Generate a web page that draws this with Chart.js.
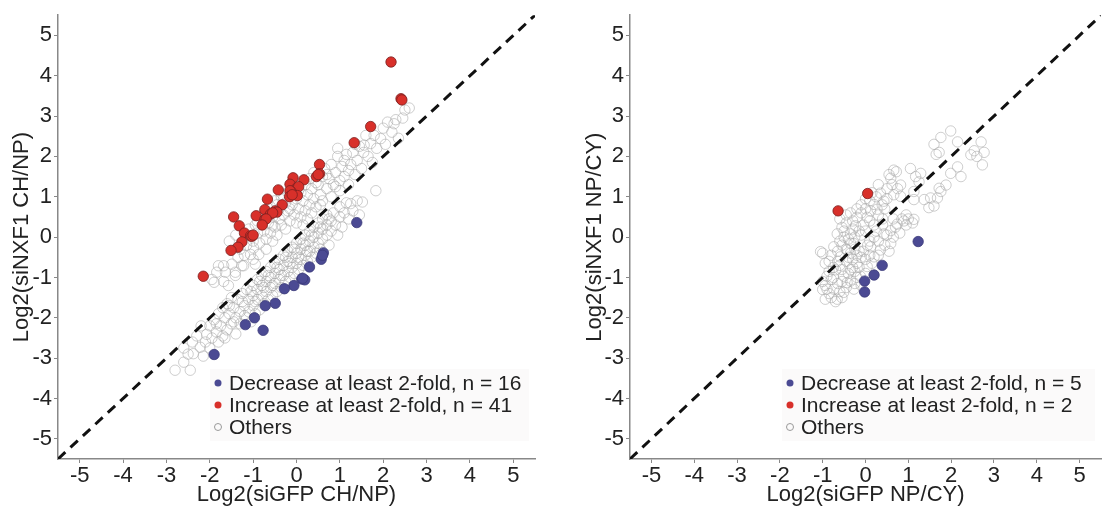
<!DOCTYPE html>
<html>
<head>
<meta charset="utf-8">
<script src="https://cdn.jsdelivr.net/npm/chart.js@4"></script>
<style>
  html, body { margin: 0; padding: 0; background: #fff; }
  #wrap { position: relative; width: 1109px; height: 514px; }
  #leftBox { position: absolute; left: 0; top: 0; width: 572px; height: 514px; }
  #rightBox { position: absolute; left: 572px; top: 0; width: 537px; height: 514px; }
</style>
</head>
<body>
<div id="wrap">
  <div id="leftBox"><canvas id="leftChart"></canvas></div>
  <div id="rightBox"><canvas id="rightChart"></canvas></div>
</div>
<script>
// tick labels on both axes
var tickValues = [-5, -4, -3, -2, -1, 0, 1, 2, 3, 4, 5];
var axisMin = -5.5, axisMax = 5.5;

// ---- left panel: CH/NP ----
var leftDecrease = [
  [1.39,0.36],[0.62,-0.39],[0.57,-0.55],[0.6,-0.45],[0.30,-0.74],[0.12,-1.04],[0.19,-1.06],[0.14,-1.02],
  [-0.06,-1.2],[-0.28,-1.28],[-0.49,-1.64],[-0.72,-1.70],[-0.97,-2.0],[-1.18,-2.17],[-0.77,-2.31],[-1.9,-2.91]
];
var leftIncrease = [
  [2.18,4.34],[2.41,3.43],[2.43,3.40],[1.71,2.74],[1.33,2.34],[0.53,1.80],[0.53,1.57],[0.46,1.50],[0.5,1.55],
  [-0.08,1.47],[0.17,1.42],[-0.15,1.31],[0,1.21],[0.05,1.25],[-0.42,1.17],[-0.12,1.12],[-0.15,1.15],[0.02,1.03],
  [-0.16,1.0],[-0.1,1.05],[-0.67,0.94],[-0.33,0.8],[-0.49,0.65],[-0.45,0.62],[-0.73,0.68],[-0.6,0.57],[-0.55,0.6],
  [-0.93,0.53],[-1.45,0.5],[-0.73,0.44],[-0.7,0.45],[-0.79,0.30],[-1.32,0.28],[-1.2,0.1],[-1.06,0.03],[-1.03,0.02],
  [-1.0,0.05],[-1.26,-0.12],[-1.35,-0.25],[-1.51,-0.33],[-2.15,-0.97]
];
var leftOthers = [
  // band above the diagonal
  [-1.95,-1.05],[-1.9,-1.12],[-1.84,-0.87],[-1.8,-0.71],[-1.68,-0.71],[-1.68,-1.1],[-1.64,-0.87],[-1.57,-1.2],
  [-1.49,-0.67],[-1.41,-0.87],[-1.41,-0.95],[-1.26,-0.71],[-1.22,-0.71],[-1.06,-0.43],[-0.99,-0.27],[-0.95,-0.67],
  [-0.87,-0.43],[-1.55,-0.1],[-1.4,0.05],[-1.3,-0.3],[-1.15,-0.2],[-1.1,0.2],[-1.0,-0.1],[-0.95,0.3],[-0.9,0.1],
  [-0.85,-0.15],[-0.8,0.5],[-0.75,0.15],[-0.7,-0.05],[-0.65,0.35],[-0.6,0.75],[-0.6,0.1],[-0.55,0.5],[-0.5,0.25],
  [-0.5,0.9],[-0.45,0.05],[-0.4,0.45],[-0.4,0.7],[-0.35,1.0],[-0.35,0.3],[-0.3,0.55],[-0.25,0.85],[-0.25,0.2],
  [-0.2,0.65],[-0.2,1.1],[-0.15,0.4],[-0.1,0.8],[-0.05,0.55],[-0.05,1.3],[0,0.95],[0,0.35],[0.05,0.7],[0.1,1.1],
  [0.1,0.5],[0.15,0.9],[0.2,1.3],[0.2,0.65],[0.25,1.05],[0.3,0.8],[0.3,1.45],[0.35,1.2],[0.4,0.95],[0.4,1.6],
  [0.45,0.75],[0.5,1.3],[0.55,1.05],[0.6,1.5],[0.6,0.9],[0.65,1.7],[0.7,1.2],[0.75,1.45],[0.8,1.0],[0.8,1.8],
  [0.85,1.3],[0.9,1.6],[0.95,2.0],[1.0,1.4],[1.0,1.15],[1.05,1.75],[1.1,1.5],[1.15,2.05],[1.2,1.3],[1.25,1.8],
  [1.3,2.1],[1.35,1.55],[1.4,1.9],[1.45,2.25],[1.5,1.7],[1.56,2.28],[1.6,2.52],[1.65,2.0],[1.71,2.32],[1.75,1.85],
  [1.79,2.52],[1.85,2.2],[1.94,2.44],[2.0,2.7],[2.05,2.3],[2.1,2.85],[2.2,2.6],[2.25,2.81],[2.29,2.91],[2.35,2.45],
  [2.5,3.15],[2.45,2.95],
  [-0.9,0.4],[-0.75,0.6],[-0.55,0.3],[-0.45,0.8],[-0.3,0.95],[-0.15,0.7],[0.05,1.15],[0.15,0.3],[0.25,0.45],
  [0.35,0.6],[0.45,1.35],[0.55,0.8],[0.7,1.55],[0.9,1.25],[1.1,1.9],[1.2,1.65],[1.35,2.3],[-1.2,-0.45],[-1.35,-0.5],
  [-1.0,-0.55],[-0.7,-0.3],[-0.55,-0.1],[0.95,2.2],[1.55,2.1],[2.6,3.2],
  // band below the diagonal
  [-2.8,-3.3],[-2.6,-3.1],[-2.45,-3.3],[-2.5,-2.9],[-2.38,-2.89],[-2.22,-2.73],[-2.4,-2.6],[-2.3,-2.45],[-2.07,-2.41],
  [-2.2,-2.2],[-2.1,-2.6],[-2.0,-2.75],[-2.0,-2.2],[-1.95,-2.5],[-1.9,-2.05],[-1.85,-2.35],[-1.8,-2.6],[-1.8,-1.9],
  [-1.75,-2.2],[-1.7,-2.45],[-1.7,-1.75],[-1.65,-2.0],[-1.6,-2.3],[-1.6,-1.65],[-1.55,-1.9],[-1.5,-2.15],[-1.5,-1.5],
  [-1.45,-1.75],[-1.4,-2.0],[-1.4,-2.4],[-1.35,-1.55],[-1.3,-1.85],[-1.3,-2.15],[-1.25,-1.4],[-1.2,-1.7],[-1.2,-1.95],
  [-1.15,-1.3],[-1.1,-1.55],[-1.1,-1.85],[-1.05,-2.1],[-1.0,-1.2],[-1.0,-1.45],[-1.0,-1.7],[-0.95,-1.9],[-0.9,-1.05],
  [-0.9,-1.3],[-0.9,-1.55],[-0.85,-1.8],[-0.8,-0.95],[-0.8,-1.2],[-0.8,-1.45],[-0.75,-1.65],[-0.7,-0.85],[-0.7,-1.1],
  [-0.7,-1.35],[-0.65,-1.55],[-0.6,-0.75],[-0.6,-1.0],[-0.6,-1.25],[-0.55,-1.45],[-0.5,-0.65],[-0.5,-0.9],[-0.5,-1.15],
  [-0.45,-1.35],[-0.4,-0.55],[-0.4,-0.8],[-0.4,-1.05],[-0.35,-1.25],[-0.3,-0.45],[-0.3,-0.7],[-0.3,-0.95],[-0.25,-1.1],
  [-0.2,-0.35],[-0.2,-0.6],[-0.2,-0.85],[-0.15,-1.0],[-0.1,-0.25],[-0.1,-0.5],[-0.1,-0.75],[-0.05,-0.9],[0,-0.15],
  [0,-0.4],[0,-0.65],[0.05,-0.8],[0.1,-0.05],[0.1,-0.3],[0.1,-0.55],[0.15,-0.7],[0.2,0.05],[0.2,-0.2],[0.2,-0.45],
  [0.25,-0.6],[0.3,0.15],[0.3,-0.1],[0.3,-0.35],[0.35,-0.5],[0.4,0.25],[0.4,0.0],[0.4,-0.25],[0.45,-0.4],[0.5,0.35],
  [0.5,0.1],[0.5,-0.15],[0.55,-0.3],[0.6,0.45],[0.6,0.2],[0.6,-0.05],[0.7,0.55],[0.7,0.3],[0.7,0.05],[0.75,-0.2],
  [0.8,0.4],[0.8,0.15],[0.85,0.6],[0.9,0.3],[0.95,0.05],[1.0,0.5],[1.0,0.75],[1.05,0.25],[1.1,0.6],[1.15,0.85],
  [1.2,0.45],[1.25,0.83],[1.3,0.65],[1.4,0.9],[1.52,0.87],[1.83,1.15],[1.45,0.55],
  [-1.85,-2.15],[-1.55,-1.7],[-1.25,-1.6],[-1.05,-1.35],[-0.85,-1.1],[-0.65,-0.95],[-0.45,-0.75],[-0.25,-0.5],
  [-0.05,-0.3],[0.15,-0.15],[0.35,0.05],[0.55,0.25],[0.75,0.45],[-0.95,-1.6],[-0.75,-1.25],[-0.55,-1.2],[-0.35,-0.95],
  [-0.15,-0.65],[0.05,-0.5],[0.25,-0.35],[-1.45,-2.1],[-1.65,-2.5],[-2.15,-2.95],[-2.6,-2.75],[-1.15,-2.0]
];

// ---- right panel: NP/CY ----
var rightDecrease = [[1.23,-0.11],[0.39,-0.70],[0.2,-0.94],[-0.02,-1.09],[-0.02,-1.36]];
var rightIncrease = [[-0.64,0.65],[0.05,1.08]];
var rightOthers = [
  [1.99,2.63],[1.6,2.3],[1.76,2.47],[1.72,2.1],[2.15,2.36],[2.7,2.36],[2.54,2.14],[2.46,2.04],[2.77,2.1],[2.73,1.79],
  [2.15,1.74],[1.99,1.58],[2.23,1.5],[1.05,1.7],[1.29,1.58],[1.25,1.37],[1.17,1.5],[1.72,1.21],[1.88,1.29],[1.68,0.97],
  [1.52,0.97],[1.48,0.73],[1.6,0.77],[1.37,0.93],[1.13,0.93],[1.13,1.13],[1.76,1.13],[2.6,2.0],[1.65,2.05],[1.0,0.45],
  [1.1,0.35],[0.95,0.55],
  [0.66,1.66],[0.72,1.62],[0.59,1.46],[0.82,1.29],[0.62,1.3],[0.75,1.2],[0.35,1.09],[0.66,1.05],[0.82,1.01],[0.43,0.89],
  [0.5,0.95],[0.39,0.8],[0.2,0.81],[0.27,0.69],[0.12,0.65],[0.04,0.49],[0.3,0.55],[0.45,0.7],[-0.2,0.49],[-0.1,0.6],
  [0.1,0.4],[0.2,0.3],[-0.05,0.3],[-0.23,0.28],[-0.35,0.08],[-0.55,0.24],[-0.66,0.08],[-0.45,0.35],[-0.3,0.2],[-0.15,0.15],
  [0,0.15],[-0.4,-0.05],[-0.5,0.0],[-0.6,-0.1],[-0.74,-0.24],[-0.65,-0.35],[-0.55,-0.2],[-0.45,-0.3],[-0.35,-0.15],
  [-0.25,0.0],[-0.1,0.05],[-1.05,-0.36],[-1.0,-0.4],[-0.8,-0.45],[-0.3,0.4],[0.1,0.9],[0.25,1.0],[0.5,1.2],[-0.1,0.8],
  [0.0,0.7],[0.4,0.45],[-0.5,0.15],
  [-0.94,-0.65],[-0.85,-0.6],[-0.9,-0.97],[-0.94,-1.2],[-0.9,-1.29],[-0.94,-1.54],[-0.66,-1.54],[-0.74,-1.29],[-0.51,-1.37],
  [-0.43,-1.13],[-0.27,-1.29],[-0.35,-0.81],[-0.12,-0.97],[-0.2,-0.65],[-0.1,-0.5],[0.12,-0.24],[0.2,0.0],[0.43,0.08],
  [0.59,0.16],[0.74,0.32],[0.9,0.4],[1.13,0.44],[0.59,-0.16],[0.35,-0.32],[0.2,-0.49],[0.04,-0.73],[-0.05,-0.35],
  [-0.27,-0.16],[-0.43,-0.32],[-0.59,-0.49],[-0.7,-0.81],[-0.51,-0.97],[-0.35,-1.09],[-0.8,-1.05],[-0.75,-0.75],
  [-0.6,-0.7],[-0.55,-1.1],[-0.45,-0.6],[-0.4,-0.9],[-0.3,-0.55],[-0.25,-0.85],[-0.15,-0.75],[-0.15,-0.35],[0,-0.55],
  [0.05,-0.2],[0.1,-0.45],[0.15,-0.65],[0.3,-0.1],[0.3,-0.45],[0.45,-0.2],[0.5,0.05],[0.65,0.0],[0.7,0.25],[0.8,0.1],
  [0.85,0.45],[0.95,0.3],[0.4,0.3],[0.25,0.15],[-0.65,-1.15],[-0.85,-1.4],[-0.6,-1.35],[-0.75,-1.0],[-1.0,-1.3],
  [-0.7,-1.6],[-0.2,-1.0],[-0.35,-0.4],[0.55,-0.35],[0.65,0.45],
  [-0.3,-0.75],[-0.4,-0.5],[-0.2,-0.45],[-0.55,-0.8],[-0.65,-0.6],[-0.85,-0.85],[-0.45,-1.25],[-0.25,-1.15],
  [-0.8,-1.5],[-0.55,-1.5],[-1.0,-1.1],[-0.6,0.45],[-0.45,0.55],[-0.2,0.7],[0.0,0.95],[0.15,1.1],[0.3,1.3],
  [0.55,1.55],[-0.35,0.6],[-0.25,-0.3],[0.1,-0.1],[0.0,-0.9],[-0.1,-1.2]
];

var FONT = '"Liberation Sans", Arial, sans-serif';
var TEXT = '#222';

function pts(arr){
    return arr.map(p => ({x: p[0], y: p[1]}));
}

// legend drawn inside the plot, bottom right
var innerLegend = {
    id: 'innerLegend',
    afterDraw: function(chart){
        var ctx = chart.ctx;
        var a = chart.chartArea;
        var items = chart.data.datasets.filter(d => d.inLegend);
        var x0 = a.left + 160;
        var rows = [a.bottom - 76, a.bottom - 54, a.bottom - 32];
        ctx.save();
        ctx.fillStyle = 'rgba(240,236,236,0.25)';
        ctx.fillRect(x0 - 8, rows[0] - 14, a.right - x0 + 2, rows[2] - rows[0] + 28);
        ctx.font = '21px ' + FONT;
        ctx.textBaseline = 'middle';
        items.forEach(function(d, i){
            ctx.beginPath();
            ctx.arc(x0, rows[i], 3.5, 0, Math.PI * 2);
            if(d.pointBackgroundColor !== 'transparent'){
                ctx.fillStyle = d.pointBackgroundColor;
                ctx.fill();
            } else {
                ctx.strokeStyle = '#999';
                ctx.lineWidth = 1;
                ctx.stroke();
            }
            ctx.fillStyle = TEXT;
            ctx.fillText(d.label, x0 + 11, rows[i] + 1);
        });
        ctx.restore();
    }
};

function axis(title, pad){
    return {
        type: 'linear',
        min: axisMin,
        max: axisMax,
        afterBuildTicks: function(scale){
            scale.ticks = tickValues.map(v => ({value: v}));
        },
        grid: {drawOnChartArea: false, drawTicks: true, tickLength: 4, color: '#888'},
        border: {display: true, color: '#888', width: 1.5},
        ticks: {color: TEXT, padding: 0, font: {family: FONT, size: 22}},
        title: {display: true, text: title, color: TEXT, padding: pad, font: {family: FONT, size: 22}}
    };
}

function buildChart(id, decrease, increase, others, xTitle, yTitle, padRight, titlePad){
    var ctx = document.getElementById(id).getContext('2d');
    var xAxis = axis(xTitle, {top: 0, bottom: 6});
    xAxis.afterFit = function(scale){ scale.height = 55; };
    var yAxis = axis(yTitle, {top: titlePad, bottom: 0});
    yAxis.ticks.padding = 2;
    yAxis.afterFit = function(scale){ scale.width = 58; };
    return new Chart(ctx, {
        type: 'scatter',
        data: {
            datasets: [
                {
                    label: 'Decrease at least 2-fold, n = ' + decrease.length,
                    inLegend: true,
                    data: pts(decrease),
                    pointRadius: 5.2,
                    pointBackgroundColor: '#4b4a93',
                    pointBorderColor: '#3b3a78',
                    pointBorderWidth: 0.8,
                    order: 0
                },
                {
                    label: 'Increase at least 2-fold, n = ' + increase.length,
                    inLegend: true,
                    data: pts(increase),
                    pointRadius: 5.2,
                    pointBackgroundColor: '#d8302a',
                    pointBorderColor: '#7a2020',
                    pointBorderWidth: 0.8,
                    order: 1
                },
                {
                    label: 'diagonal',
                    data: [{x: axisMin, y: axisMin}, {x: axisMax, y: axisMax}],
                    showLine: true,
                    borderColor: '#111',
                    borderWidth: 3,
                    borderDash: [10, 7],
                    pointRadius: 0,
                    order: 2
                },
                {
                    label: 'Others',
                    inLegend: true,
                    data: pts(others),
                    pointRadius: 5.2,
                    pointBackgroundColor: 'transparent',
                    pointBorderColor: 'rgba(165,165,165,0.55)',
                    pointBorderWidth: 1,
                    order: 3
                }
            ]
        },
        options: {
            responsive: true,
            maintainAspectRatio: false,
            animation: false,
            layout: {padding: {top: 8, right: padRight, bottom: 0, left: 0}},
            plugins: {legend: {display: false}, tooltip: {enabled: false}},
            scales: {x: xAxis, y: yAxis}
        },
        plugins: [innerLegend]
    });
}

buildChart('leftChart', leftDecrease, leftIncrease, leftOthers,
    'Log2(siGFP CH/NP)', 'Log2(siNXF1 CH/NP)', 37, 9);
buildChart('rightChart', rightDecrease, rightIncrease, rightOthers,
    'Log2(siGFP NP/CY)', 'Log2(siNXF1 NP/CY)', 8, 10);
</script>
</body>
</html>
